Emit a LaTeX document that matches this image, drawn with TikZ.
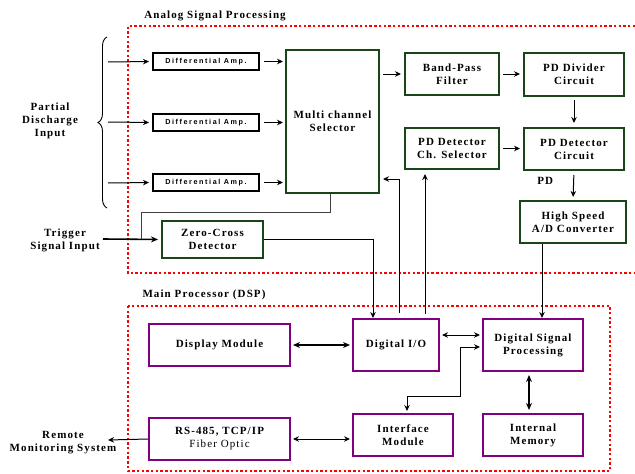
\documentclass[tikz,border=0pt]{standalone}
\usepackage{fontspec}
\setmainfont{Liberation Serif}
\newfontfamily\lblfont[LetterSpace=10]{Liberation Serif}
\newfontfamily\ampfont[LetterSpace=22]{Liberation Sans}
\usetikzlibrary{arrows.meta,decorations.pathreplacing}
\definecolor{dgreen}{RGB}{25,70,25}
\definecolor{dpurple}{RGB}{128,0,128}
\tikzset{
  lbl/.style={align=center, inner sep=0pt, font=\lblfont\bfseries\fontsize{11}{13}\selectfont},
  ampbox/.style={draw=black, line width=2.4pt, minimum width=105.6pt, minimum height=16.6pt, inner sep=0pt,
    font=\ampfont\bfseries\fontsize{7.2}{8}\selectfont},
  gbox/.style={lbl, draw=dgreen, line width=2.4pt},
  pbox/.style={lbl, draw=dpurple, line width=2.4pt},
  arr/.style={-{Stealth[length=6pt,width=5.5pt]}, line width=1pt},
  darr/.style={{Stealth[length=6pt,width=5.5pt]}-{Stealth[length=6pt,width=5.5pt]}, line width=1pt},
  tarr/.style={-{Stealth[length=7pt,width=6pt]}, line width=1.6pt},
  tdarr/.style={{Stealth[length=7pt,width=6pt]}-{Stealth[length=7pt,width=6pt]}, line width=1.6pt},
  zone/.style={red, line width=2pt, dash pattern=on 2.4pt off 2.3pt},
}
\begin{document}
\begin{tikzpicture}[x=1pt,y=-1pt]
\useasboundingbox (0,0) rectangle (635,474);
\fill[white] (0,0) rectangle (635,474);

% zones
\draw[zone] (635,26) -- (128,26) -- (128,273) -- (635,273);
\draw[zone] (128,306) rectangle (610,471);
\node[lbl] (tA) at (215,16) {Analog Signal Processing};
\node[lbl] (tM) at (204,295) {Main Processor (DSP)};

% left texts
\node[lbl] (pdi) at (50,121) {Partial\\Discharge\\Input};
\node[lbl] (trg) at (65,240) {Trigger\\Signal Input};
\node[lbl] (rem) at (63,443) {Remote\\Monitoring System};
\draw[line width=0.9pt, decoration={brace, amplitude=9pt}, decorate] (107,208) -- (107,37);

% analog nodes
\node[ampbox] (d1) at (206,61.5) {Differential Amp.};
\node[ampbox] (d2) at (206,122.5) {Differential Amp.};
\node[ampbox] (d3) at (206,182.5) {Differential Amp.};
\node[gbox, minimum width=92.6pt, minimum height=142.6pt] (mcs) at (332.5,121.5) {Multi channel\\Selector};
\node[gbox, minimum width=93.6pt, minimum height=41.6pt] (bpf) at (452,74) {Band-Pass\\Filter};
\node[gbox, minimum width=99.6pt, minimum height=42.6pt] (pdd) at (574,74.5) {PD Divider\\Circuit};
\node[gbox, minimum width=93.6pt, minimum height=40.6pt] (pcs) at (452,148.5) {PD Detector\\Ch. Selector};
\node[gbox, minimum width=99.6pt, minimum height=41.6pt] (pdc) at (574,149) {PD Detector\\Circuit};
\node[gbox, minimum width=105.6pt, minimum height=41.6pt] (adc) at (573,222) {High Speed\\A/D Converter};
\node[gbox, minimum width=100.6pt, minimum height=36.6pt] (zc) at (212.5,239.5) {Zero-Cross\\Detector};

% main processor nodes
\node[pbox, minimum width=85.6pt, minimum height=51.6pt] (dio) at (396,345) {Digital I/O};
\node[pbox, minimum width=99.6pt, minimum height=51.6pt] (dsp) at (533,345) {Digital Signal\\Processing};
\node[pbox, minimum width=99.6pt, minimum height=41.6pt] (im) at (533,435) {Internal\\Memory};
\node[pbox, minimum width=99.6pt, minimum height=41.6pt] (ifm) at (403,435) {Interface\\Module};
\node[pbox, minimum width=140.6pt, minimum height=41.6pt] (disp) at (219.5,345) {Display Module};
\node[pbox, minimum width=140.6pt, minimum height=41.6pt] (rs) at (219.5,439) {RS-485, TCP/IP\\{\mdseries Fiber Optic}};

% coordinates
\coordinate (i1) at (108,62);
\coordinate (i2) at (108,122);
\coordinate (i3) at (108,183);
\coordinate (trin) at (103,239);
\coordinate (jn) at (141,239);
\coordinate (bend) at (460,396);
\coordinate (rmt) at (108,440);

% analog connectors
\draw[arr, shorten >=3pt] (i1) -- (d1.west);
\draw[arr, shorten >=3pt] (i2) -- (d2.west);
\draw[arr, shorten >=3pt] (i3) -- (d3.west);
\draw[arr, shorten <=4pt, shorten >=2pt] (d1.east) -- (mcs.west |- d1.east);
\draw[arr, shorten <=4pt, shorten >=2pt] (d2.east) -- (mcs.west |- d2.east);
\draw[arr, shorten <=4pt, shorten >=2pt] (d3.east) -- (mcs.west |- d3.east);
\draw[arr, shorten <=3pt, shorten >=3pt] (mcs.east |- bpf.west) -- (bpf.west);
\draw[arr, shorten <=3pt, shorten >=3pt] (bpf.east) -- (pdd.west |- bpf.east);
\draw[arr, shorten <=3pt, shorten >=4pt] (pdd.south) -- (pdc.north);
\draw[arr, shorten <=3pt, shorten >=3pt] (pcs.east) -- (pdc.west |- pcs.east);
\draw[arr, shorten <=4pt, shorten >=3pt] (pdc.south) -- node[lbl, pos=0.35, left=20pt] (pdl) {PD} (adc.north);
\draw[tarr, shorten >=3pt] (trin) -- (zc.west);
\draw[line width=0.7pt, black!75] ([xshift=-2.5pt]mcs.south) |- (141,212) -- (jn);
\draw[arr] (zc.east) -| ([xshift=-23pt]dio.north);
\draw[arr, shorten <=5pt, shorten >=3pt] ([xshift=3pt]dio.north) |- ([yshift=-57.5pt]mcs.east);
\draw[arr, shorten <=4pt, shorten >=4pt] ([xshift=29pt]dio.north) -- ([xshift=29pt]dio.north |- pcs.south);
\draw[arr] ([xshift=-31pt]adc.south) -- ([xshift=-31pt]adc.south |- dsp.north);

% main processor connectors
\draw[tdarr, shorten <=2pt, shorten >=2pt] (disp.east) -- (dio.west);
\draw[darr, shorten <=2pt, shorten >=2pt] ([yshift=10pt]dio.east) -- ([yshift=10pt]dsp.west);
\draw[darr, shorten <=2pt, shorten >=2pt] ([yshift=-2pt]dsp.west) -| (bend) -| ([xshift=4pt]ifm.north);
\draw[tdarr, shorten <=3pt, shorten >=3pt] ([xshift=-4pt]dsp.south) -- ([xshift=-4pt]im.north);
\draw[darr, shorten <=2pt, shorten >=2pt] (rs.east) -- (rs.east -| ifm.west);
\draw[arr] (rs.west) -- (rmt);
\end{tikzpicture}
\end{document}
